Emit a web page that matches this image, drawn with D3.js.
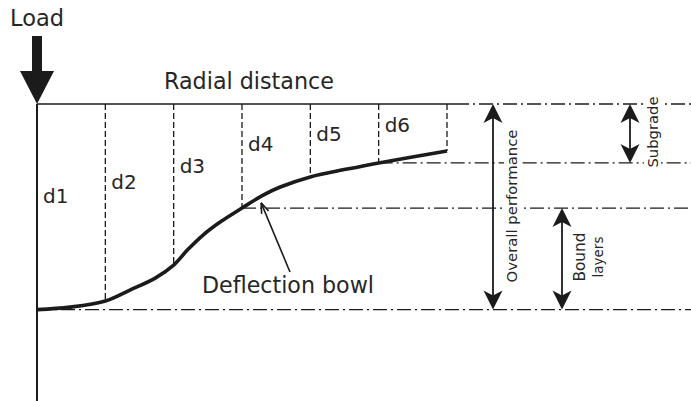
<!DOCTYPE html>
<html><head><meta charset="utf-8">
<script src="https://cdn.jsdelivr.net/npm/d3@7"></script>
<style>body{margin:0;background:#fff}svg{display:block}</style>
</head><body>
<svg id="c" width="691" height="401"></svg>
<script>
// ---- data (radial position in sensor spacings, deflection in % of d1) ----
const sensorLabels = ["d1", "d2", "d3", "d4", "d5", "d6"];
const sensorOffset = [0, 1, 2, 3, 4, 5, 6];
const sensorDefl   = [99.8, 95.6, 78.2, 50.5, 35.4, 28.6, 22.8];
const bowlOffset = [0, 0.48, 1.0, 1.36, 1.73, 2.0, 2.2, 2.43, 2.68, 3.0, 3.31, 3.56, 4.0, 4.54, 5.0, 6.0];
const bowlDefl   = [99.8, 98.6, 95.6, 90.3, 84.5, 78.2, 70.9, 63.6, 57.3, 50.5, 44.2, 40.3, 35.4, 31.6, 28.6, 22.8];
const dimLabels = ["Overall performance", "Subgrade", "Bound", "layers"];
const titles = ["Load", "Radial distance", "Deflection bowl"];

// ---- drawing ----
const svg = d3.select("#c");
const W = 691, H = 401;
const ink = "#1b1b1b", txt = "#262626";
const font = "DejaVu Sans";
const x = d3.scaleLinear().domain([0, 6]).range([37, 447]);
const y = d3.scaleLinear().domain([0, 100]).range([104, 310]);
const dashDot = "14,4,2,4";

function fit(t, w) {
  const n = t.node();
  const fs = parseFloat(t.attr("font-size"));
  const len = n.getComputedTextLength();
  t.attr("font-size", (fs * w / len).toFixed(2));
  return t;
}
function text(str, xx, yy, w, opts = {}) {
  const t = svg.append("text").attr("x", xx).attr("y", yy)
    .attr("font-family", font).attr("font-size", opts.size || 20).attr("fill", txt)
    .attr("text-anchor", opts.anchor || "start").text(str);
  if (opts.rotate) t.attr("transform", `rotate(-90,${xx},${yy})`).attr("dominant-baseline", "central");
  if (w) fit(t, w);
  return t;
}
function hline(yy, x1, x2, dash, sw) {
  svg.append("line").attr("x1", x1).attr("x2", x2).attr("y1", yy).attr("y2", yy)
    .attr("stroke", ink).attr("stroke-width", sw || 1.3).attr("stroke-dasharray", dash || null);
}
function head(xx, tipY, dir) { // dir: +1 pointing down, -1 pointing up
  const L = 19, hw = 9.5, notch = 5;
  const b = tipY - dir * L;
  svg.append("path").attr("fill", ink)
    .attr("d", `M${xx},${tipY}L${xx - hw},${b}L${xx},${b + dir * notch}L${xx + hw},${b}Z`);
}
function dim(xx, y1, y2) {
  svg.append("line").attr("x1", xx).attr("x2", xx).attr("y1", y1 + 10).attr("y2", y2 - 10)
    .attr("stroke", ink).attr("stroke-width", 1.8);
  head(xx, y1, -1);
  head(xx, y2, 1);
}

// reference dash-dot lines
const y0 = y(0);
hline(y0, x(6) + 8, W, dashDot);
hline(y(sensorDefl[5]), x(5), W, dashDot);
hline(y(sensorDefl[3]), x(3), W, dashDot);
hline(y(sensorDefl[0]), x(0), W, dashDot);

// dashed sensor verticals
sensorOffset.slice(1).forEach((o, i) => {
  svg.append("line").attr("x1", x(o)).attr("x2", x(o))
    .attr("y1", y0).attr("y2", y(sensorDefl[i + 1]))
    .attr("stroke", ink).attr("stroke-width", 1.3).attr("stroke-dasharray", "6,3");
});

// axes
svg.append("line").attr("x1", x(0)).attr("x2", x(0)).attr("y1", y0).attr("y2", H)
  .attr("stroke", ink).attr("stroke-width", 2);
hline(y0, x(0), x(6) + 8, null, 1.6);

// deflection bowl
const line = d3.line().x((d, i) => x(bowlOffset[i])).y(d => y(d)).curve(d3.curveCatmullRom.alpha(0.5));
svg.append("path").attr("d", line(bowlDefl)).attr("fill", "none")
  .attr("stroke", ink).attr("stroke-width", 3.6).attr("stroke-linecap", "butt");

// load arrow
svg.append("rect").attr("x", x(0) - 5).attr("y", 36).attr("width", 10).attr("height", 38).attr("fill", ink);
svg.append("path").attr("fill", ink)
  .attr("d", `M${x(0)},${y0}L${x(0) - 17},${71}L${x(0) + 17},${71}Z`);

// dimension arrows
dim(493, y0, y(sensorDefl[0]));
dim(630, y0, y(sensorDefl[5]));
dim(562, y(sensorDefl[3]), y(sensorDefl[0]));

// pointer to bowl
const tip = [x(3.28), y(48)], tail = [290, 272];
svg.append("line").attr("x1", tail[0]).attr("y1", tail[1]).attr("x2", tip[0]).attr("y2", tip[1])
  .attr("stroke", ink).attr("stroke-width", 1.6);
const ang = Math.atan2(tail[1] - tip[1], tail[0] - tip[0]);
[0.35, -0.35].forEach(a => {
  svg.append("line").attr("x1", tip[0]).attr("y1", tip[1])
    .attr("x2", tip[0] + 11 * Math.cos(ang + a)).attr("y2", tip[1] + 11 * Math.sin(ang + a))
    .attr("stroke", ink).attr("stroke-width", 1.6);
});

// texts
text(titles[0], 10, 26, 54);
text(titles[1], 164, 89, 170);
text(titles[2], 202, 293, 172);
const labelBase = [203, 189, 173, 151, 141, 132];
sensorLabels.forEach((s, i) => text(s, x(sensorOffset[i]) + 6, labelBase[i], null, {size: 20}));
// white backings so the dash-dot lines break around the rotated labels
svg.append("rect").attr("x", 504).attr("y", 128).attr("width", 17).attr("height", 157).attr("fill", "#fff");
text(dimLabels[0], 512, 206, 153, {anchor: "middle", rotate: true});
svg.append("rect").attr("x", 644).attr("y", 95).attr("width", 17).attr("height", 75).attr("fill", "#fff");
text(dimLabels[1], 652, 132, 71, {anchor: "middle", rotate: true});
text(dimLabels[2], 580, 257, 49, {anchor: "middle", rotate: true});
text(dimLabels[3], 598, 257, 41, {anchor: "middle", rotate: true});
</script>
</body></html>
